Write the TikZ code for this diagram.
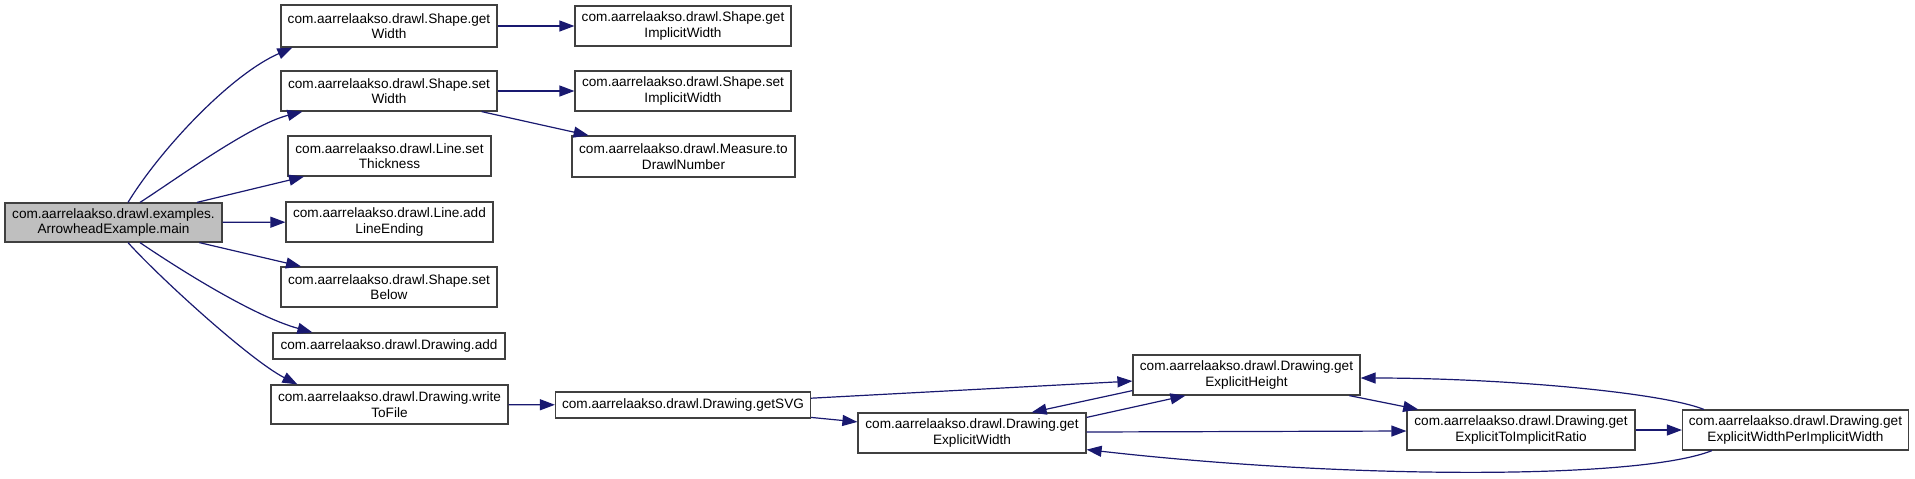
\documentclass[tikz,border=0pt]{standalone}
\usepackage{fontspec}
\setmainfont{Liberation Sans}
\usetikzlibrary{arrows.meta,calc}
\definecolor{edgec}{RGB}{25,25,112}
\definecolor{boxc}{RGB}{64,64,64}
\definecolor{mainfill}{RGB}{191,191,191}
\begin{document}
\begin{tikzpicture}[x=0.5pt,y=-0.5pt,
  box/.style={draw=boxc, line width=0.6pt, fill=white, inner sep=0pt, align=center,
    font=\fontsize{6.8}{7.7}\selectfont, minimum height=20pt},
  edge/.style={draw=edgec, line width=0.6pt, -{Triangle[length=7.5pt,width=5.5pt]}}]
\useasboundingbox (0,0) rectangle (1915,478);
% nodes
\node[box, fill=mainfill, minimum width=108.5pt, minimum height=19.5pt] (main) at (113.5,222.5) {com.aarrelaakso.drawl.examples.\\ArrowheadExample.main};
\node[box, minimum width=108pt, minimum height=21pt] (gw) at (389,26) {com.aarrelaakso.drawl.Shape.get\\Width};
\node[box, minimum width=108pt] (sw) at (389,91) {com.aarrelaakso.drawl.Shape.set\\Width};
\node[box, minimum width=101.5pt] (st) at (389.5,156) {com.aarrelaakso.drawl.Line.set\\Thickness};
\node[box, minimum width=103.5pt] (ale) at (389.5,222) {com.aarrelaakso.drawl.Line.add\\LineEnding};
\node[box, minimum width=108pt] (sb) at (389,287) {com.aarrelaakso.drawl.Shape.set\\Below};
\node[box, minimum width=116pt, minimum height=13pt] (da) at (389,346) {com.aarrelaakso.drawl.Drawing.add};
\node[box, minimum width=118.5pt, minimum height=19.5pt] (wtf) at (389.5,404.5) {com.aarrelaakso.drawl.Drawing.write\\ToFile};
\node[box, minimum width=108pt] (giw) at (683,26) {com.aarrelaakso.drawl.Shape.get\\ImplicitWidth};
\node[box, minimum width=108pt] (siw) at (683,91) {com.aarrelaakso.drawl.Shape.set\\ImplicitWidth};
\node[box, minimum width=111.5pt, minimum height=20.5pt] (tdn) at (683.5,156.5) {com.aarrelaakso.drawl.Measure.to\\DrawlNumber};
\node[box, minimum width=127.5pt, minimum height=13pt] (svg) at (683,405) {com.aarrelaakso.drawl.Drawing.getSVG};
\node[box, minimum width=114pt] (gew) at (972,433) {com.aarrelaakso.drawl.Drawing.get\\ExplicitWidth};
\node[box, minimum width=113.5pt] (geh) at (1246.5,375) {com.aarrelaakso.drawl.Drawing.get\\ExplicitHeight};
\node[box, minimum width=114pt] (ratio) at (1521,430) {com.aarrelaakso.drawl.Drawing.get\\ExplicitToImplicitRatio};
\node[box, minimum width=113pt] (pipw) at (1795.5,430) {com.aarrelaakso.drawl.Drawing.get\\ExplicitWidthPerImplicitWidth};
% edges from main
\draw[edge] ($(main.north)+(14.5,0)$) .. controls (160,150) and (230,75) .. ($(gw.south west)+(12,0)$);
\draw[edge] ($(main.north)+(26.5,0)$) .. controls (175,180) and (250,125) .. ($(sw.south west)+(22,0)$);
\draw[edge] (main) -- (st);
\draw[edge] (main) -- (ale);
\draw[edge] (main) -- (sb);
\draw[edge] ($(main.south)+(26.5,0)$) .. controls (170,263) and (250,315) .. ($(da.north west)+(40,0)$);
\draw[edge] ($(main.south)+(14.5,0)$) .. controls (160,278) and (250,360) .. ($(wtf.north west)+(27,0)$);
% second column
\draw[edge] (gw) -- (giw);
\draw[edge] (sw) -- (siw);
\draw[edge] (sw) -- (tdn);
\draw[edge] (wtf) -- (svg);
% right part
\draw[edge] (svg) -- (geh);
\draw[edge] (svg) -- (gew);
\draw[edge] ($(gew.north east)+(0,5)$) -- ($(geh.south west)+(53,0)$);
\draw[edge] ($(geh.south west)+(0,-5)$) -- ($(gew.north east)+(-55,0)$);
\draw[edge] ($(gew.east)+(0,-1)$) -- ($(ratio.west)+(0,1)$);
\draw[edge] (geh) -- (ratio);
\draw[edge] (ratio) -- (pipw);
\draw[edge] ($(pipw.north west)+(22,0)$) .. controls (1660,392) and (1500,378) .. ($(geh.east)+(0,3)$);
\draw[edge] ($(pipw.south west)+(30,0)$) .. controls (1640,479.5) and (1350,479.5) .. ($(gew.south east)+(0,-4)$);
\end{tikzpicture}
\end{document}
